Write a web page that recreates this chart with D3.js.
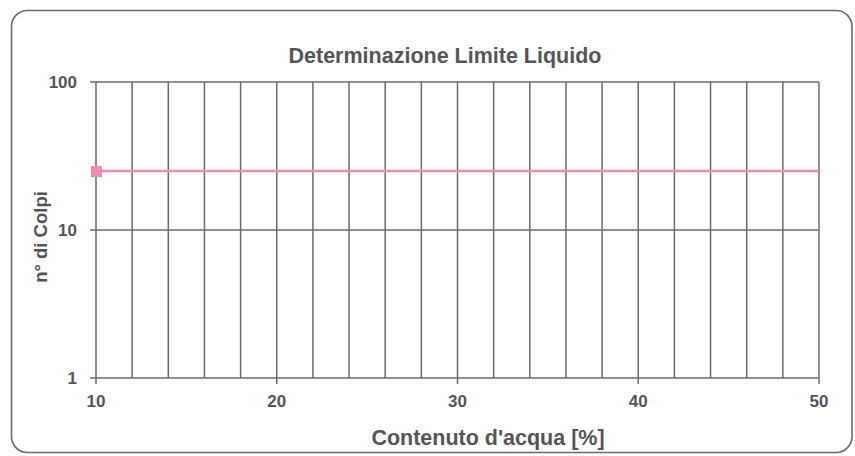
<!DOCTYPE html>
<html><head><meta charset="utf-8">
<script src="https://cdn.jsdelivr.net/npm/d3@7"></script>
<style>body{margin:0;background:#fff}svg{display:block}</style>
</head><body>
<svg id="c" width="855" height="456"></svg>
<script>
const title = "Determinazione Limite Liquido";
const xLabel = "Contenuto d'acqua [%]";
const yLabel = "n° di Colpi";
const xDomain = [10, 50];
const yDomain = [1, 100];
const xTicks = [10, 20, 30, 40, 50];
const xGrid = [10,12,14,16,18,20,22,24,26,28,30,32,34,36,38,40,42,44,46,48,50];
const yTicks = [1, 10, 100];
const seriesX = [10, 50];
const seriesY = [25, 25];
const markerX = [10];
const markerY = [25];

const svg = d3.select("#c");
const ink = "#555557";
const font = "'Liberation Sans', Arial, sans-serif";
const m = {l:96, r:819, t:82, b:378};
const x = d3.scaleLinear().domain(xDomain).range([m.l, m.r]);
const y = d3.scaleLog().domain(yDomain).range([m.b, m.t]);

svg.append("rect").attr("x",11.5).attr("y",10.5).attr("width",840.5).attr("height",442)
  .attr("rx",16).attr("fill","#fff").attr("stroke","#6a6a6c").attr("stroke-width",1.6);

const g = svg.append("g");
g.selectAll(".vg").data(xGrid).join("line")
  .attr("x1",d=>x(d)).attr("x2",d=>x(d)).attr("y1",m.t).attr("y2",m.b)
  .attr("stroke","#6b6b6d").attr("stroke-width",1.5);
g.selectAll(".hg").data(yTicks).join("line")
  .attr("x1",m.l-6).attr("x2",m.r).attr("y1",d=>y(d)).attr("y2",d=>y(d))
  .attr("stroke","#6b6b6d").attr("stroke-width",1.5);
g.selectAll(".xt").data(xTicks).join("line")
  .attr("x1",d=>x(d)).attr("x2",d=>x(d)).attr("y1",m.b).attr("y2",m.b+6)
  .attr("stroke","#6b6b6d").attr("stroke-width",1.5);

g.selectAll(".yl").data(yTicks).join("text")
  .attr("x",m.l-19).attr("y",d=>y(d)).attr("dy","0.35em").attr("text-anchor","end")
  .attr("font-family",font).attr("font-weight","bold").attr("font-size",17).attr("fill",ink)
  .text(d=>d);
g.selectAll(".xl").data(xTicks).join("text")
  .attr("x",d=>x(d)).attr("y",m.b+29).attr("text-anchor","middle")
  .attr("font-family",font).attr("font-weight","bold").attr("font-size",17).attr("fill",ink)
  .text(d=>d);

const line = d3.line().x((d,i)=>x(seriesX[i])).y(d=>y(d));
g.append("path").datum(seriesY).attr("d",line).attr("fill","none")
  .attr("stroke","#f08ab4").attr("stroke-width",2.5);
g.selectAll(".mk").data(markerY).join("rect")
  .attr("x",(d,i)=>x(markerX[i])-5).attr("y",d=>y(d)-5).attr("width",11).attr("height",11)
  .attr("fill","#f08ab4");

svg.append("text").attr("x",445).attr("y",63).attr("text-anchor","middle")
  .attr("font-family",font).attr("font-weight","bold").attr("font-size",21.5).attr("fill",ink).text(title);
svg.append("text").attr("x",488).attr("y",445).attr("text-anchor","middle")
  .attr("font-family",font).attr("font-weight","bold").attr("font-size",21.5).attr("fill",ink).text(xLabel);
svg.append("text").attr("transform","translate(47,237) rotate(-90)").attr("text-anchor","middle")
  .attr("font-family",font).attr("font-weight","bold").attr("font-size",18.5).attr("fill",ink).text(yLabel);
</script>
</body></html>
